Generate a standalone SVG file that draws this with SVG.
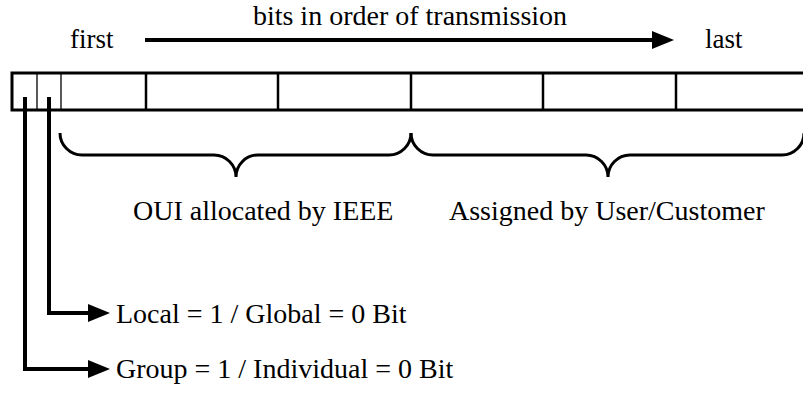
<svg xmlns="http://www.w3.org/2000/svg" width="803" height="398" viewBox="0 0 803 398">
<style>
text{font-family:"Liberation Serif","Times New Roman",serif;font-size:28px;fill:#000}
.end{font-size:27px}
.frame{fill:none;stroke:#000;stroke-width:3}
.div{stroke:#000;stroke-width:2.5}
.thin{stroke:#000;stroke-width:1.3}
.brace{fill:none;stroke:#000;stroke-width:3}
.arr{fill:none;stroke:#000;stroke-width:4}
</style>
<defs>
<marker id="ah" markerUnits="userSpaceOnUse" markerWidth="24" markerHeight="20" refX="1" refY="9" orient="auto">
<path d="M0,0 L22,9 L0,18 Z" fill="#000"/>
</marker>
</defs>
<g id="header">
<text class="end" x="70" y="48">first</text>
<text x="410" y="25" text-anchor="middle">bits in order of transmission</text>
<text class="end" x="705" y="48">last</text>
</g>
<g id="address-field">
<path class="frame" d="M820,73 H12 V110 H820"/>
<line class="thin" x1="37" y1="73" x2="37" y2="110"/>
<line class="thin" x1="61" y1="73" x2="61" y2="110"/>
<line class="div" x1="146" y1="73" x2="146" y2="110"/>
<line class="div" x1="278" y1="73" x2="278" y2="110"/>
<line class="div" x1="411" y1="73" x2="411" y2="110"/>
<line class="div" x1="543" y1="73" x2="543" y2="110"/>
<line class="div" x1="676" y1="73" x2="676" y2="110"/>
</g>
<g id="oui">
<path class="brace" d="M60,133 A22,22 0 0 0 82,155 L214,155 A22,22 0 0 1 236,177 A22,22 0 0 1 258,155 L389,155 A22,22 0 0 0 411,133"/>
<text x="133" y="220">OUI allocated by IEEE</text>
</g>
<g id="user">
<path class="brace" d="M411,133 A22,22 0 0 0 433,155 L586,155 A22,22 0 0 1 608,177 A22,22 0 0 1 630,155 L782,155 A22,22 0 0 0 804,133"/>
<text x="449" y="220">Assigned by User/Customer</text>
</g>
<g id="local-bit">
<text x="116" y="323">Local = 1 / Global = 0 Bit</text>
</g>
<g id="group-bit">
<text x="116" y="378">Group = 1 / Individual = 0 Bit</text>
</g>
<g id="connectors">
<path class="arr" d="M145,40 H653" marker-end="url(#ah)"/>
<path class="arr" d="M49,97 V313 H89" marker-end="url(#ah)"/>
<path class="arr" d="M25,97 V369 H89" marker-end="url(#ah)"/>
</g>
</svg>
